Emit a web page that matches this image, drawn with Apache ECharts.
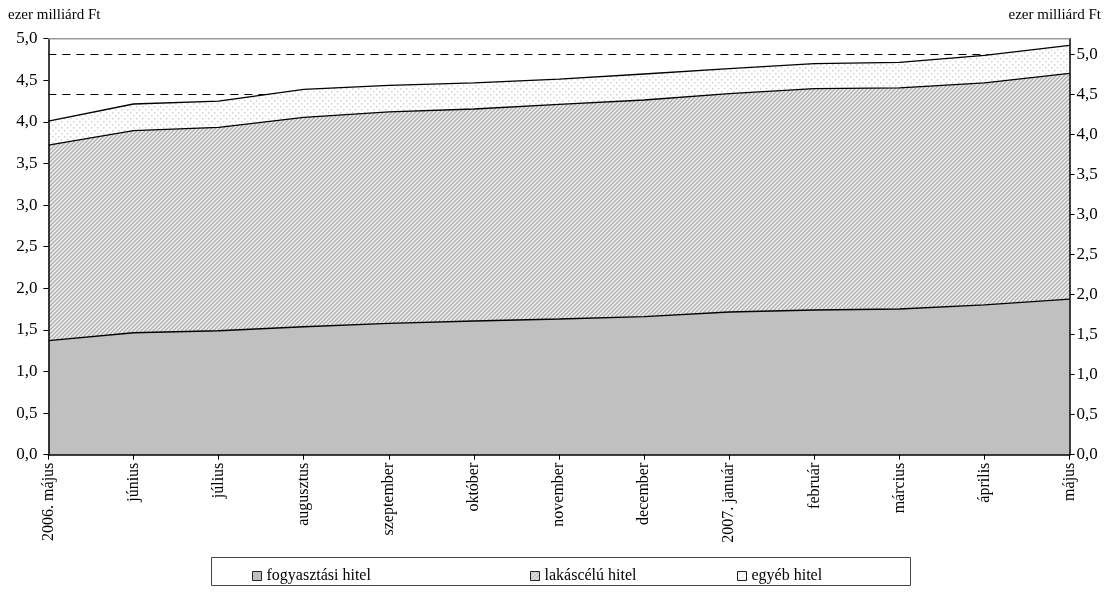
<!DOCTYPE html>
<html>
<head>
<meta charset="utf-8">
<script src="https://cdn.jsdelivr.net/npm/echarts@6/dist/echarts.min.js"></script>
<style>
html,body{margin:0;padding:0;background:#fff;}
#chart{width:1111px;height:615px;}
</style>
</head>
<body>
<div id="chart"></div>
<script>
const categories = ['2006. május','június','július','augusztus','szeptember','október','november','december','2007. január','február','március','április','május'];
const fogyasztasi = [1.37,1.466,1.49,1.538,1.579,1.607,1.631,1.659,1.715,1.739,1.751,1.80,1.871];
const lakascelu = [2.35,2.428,2.445,2.517,2.541,2.548,2.579,2.604,2.625,2.661,2.659,2.67,2.713];
const egyeb = [0.29,0.321,0.315,0.335,0.32,0.315,0.305,0.313,0.30,0.30,0.306,0.33,0.336];
const leftTicks = {min:0, max:5, interval:0.5};
const rightTicks = {min:0, max:5.2, interval:0.5, labelMax:5.0};
const unitLabel = 'ezer milliárd Ft';

function hatchPattern(){
  const c = document.createElement('canvas');
  c.width = 4; c.height = 4;
  const g = c.getContext('2d');
  g.fillStyle = '#f2f2f2'; g.fillRect(0,0,4,4);
  g.strokeStyle = '#b0b0b0'; g.lineWidth = 1.4;
  g.beginPath();
  g.moveTo(0,4); g.lineTo(4,0);
  g.moveTo(-1,1); g.lineTo(1,-1);
  g.moveTo(3,5); g.lineTo(5,3);
  g.stroke();
  return c;
}
function dotPattern(){
  const c = document.createElement('canvas');
  c.width = 6; c.height = 6;
  const g = c.getContext('2d');
  g.fillStyle = '#ffffff'; g.fillRect(0,0,6,6);
  g.fillStyle = '#d2d2d2';
  g.fillRect(1,1,1.5,1.5);
  g.fillRect(4,4,1.5,1.5);
  return c;
}
const FONT = "'Liberation Serif', 'DejaVu Serif', serif";
const fmt = v => v.toFixed(1).replace('.', ',');

const chart = echarts.init(document.getElementById('chart'), null, {renderer:'canvas'});
const lineStyle = {color:'#000', width:1.3};
const legendBase = {top:563, itemWidth:9, itemHeight:9, itemGap:4, icon:'rect',
  textStyle:{fontFamily:FONT, fontSize:16, color:'#000'},
  itemStyle:{borderColor:'#222', borderWidth:1}};

chart.setOption({
  animation:false,
  backgroundColor:'#fff',
  textStyle:{fontFamily:FONT},
  grid:{left:48.4, right:41.4, top:38.7, bottom:160.3, show:false},
  legend:[
    Object.assign({}, legendBase, {left:247, data:['fogyasztási hitel']}),
    Object.assign({}, legendBase, {left:525, data:['lakáscélú hitel']}),
    Object.assign({}, legendBase, {left:732, data:['egyéb hitel']})
  ],
  xAxis:{
    type:'category', data:categories, boundaryGap:false, z:10,
    axisLine:{lineStyle:{color:'#000', width:1.5}},
    axisTick:{show:true, length:5, inside:false, lineStyle:{color:'#000'}, interval:0},
    axisLabel:{rotate:90, interval:0, color:'#000', fontFamily:FONT, fontSize:16, margin:8},
    splitLine:{show:false}
  },
  yAxis:[
    {type:'value', position:'left', min:leftTicks.min, max:leftTicks.max, interval:leftTicks.interval, z:10,
     axisLine:{show:true, lineStyle:{color:'#000', width:1.5}},
     axisTick:{show:true, length:5, lineStyle:{color:'#000'}},
     axisLabel:{formatter:fmt, color:'#000', fontFamily:FONT, fontSize:17, margin:11},
     splitLine:{show:false}},
    {type:'value', position:'right', min:rightTicks.min, max:rightTicks.max, interval:rightTicks.interval, z:10,
     axisLine:{show:true, lineStyle:{color:'#000', width:1.5}},
     axisTick:{show:true, length:5, lineStyle:{color:'#000'}},
     axisLabel:{formatter:v => v > rightTicks.labelMax + 0.001 ? '' : fmt(v), showMaxLabel:false,
       color:'#000', fontFamily:FONT, fontSize:17, margin:7},
     splitLine:{show:false}},
    {type:'value', position:'right', min:rightTicks.min, max:rightTicks.max, interval:rightTicks.interval, z:0,
     axisLine:{show:false}, axisTick:{show:false}, axisLabel:{show:false},
     splitLine:{show:true, showMinLine:false, showMaxLine:false,
       lineStyle:{color:'#000', width:1, type:[8,6]}}}
  ],
  graphic:[
    {type:'text', left:8, top:8, style:{text:unitLabel, font:"15px 'Liberation Serif', serif", fill:'#000'}},
    {type:'text', right:10, top:8, style:{text:unitLabel, font:"15px 'Liberation Serif', serif", fill:'#000'}},
    {type:'line', z:100, shape:{x1:48.4, y1:38.7, x2:1069.6, y2:38.7}, style:{stroke:'#999', lineWidth:1.5}},
    {type:'rect', z:-1, shape:{x:211.5, y:557.5, width:699, height:28}, style:{fill:'none', stroke:'#444', lineWidth:1}}
  ],
  series:[
    {name:'fogyasztási hitel', type:'line', stack:'total', data:fogyasztasi, symbol:'none',
     lineStyle:lineStyle, itemStyle:{color:'#c0c0c0'}, areaStyle:{color:'#c0c0c0', opacity:1}},
    {name:'lakáscélú hitel', type:'line', stack:'total', data:lakascelu, symbol:'none',
     lineStyle:lineStyle, itemStyle:{color:{image:hatchPattern(), repeat:'repeat'}},
     areaStyle:{color:{image:hatchPattern(), repeat:'repeat'}, opacity:1}},
    {name:'egyéb hitel', type:'line', stack:'total', data:egyeb, symbol:'none',
     lineStyle:lineStyle, itemStyle:{color:{image:dotPattern(), repeat:'repeat'}},
     areaStyle:{color:{image:dotPattern(), repeat:'repeat'}, opacity:1}}
  ]
});
</script>
</body>
</html>
